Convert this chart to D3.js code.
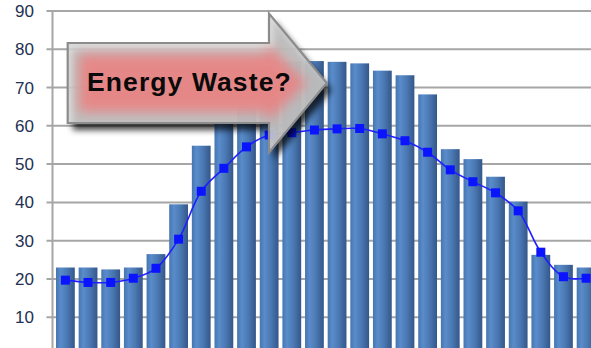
<!DOCTYPE html>
<html>
<head>
<meta charset="utf-8">
<script src="https://cdn.jsdelivr.net/npm/d3@7/dist/d3.min.js"></script>
<style>
  html, body { margin: 0; padding: 0; background: #ffffff; }
  svg { display: block; }
</style>
</head>
<body>
<script>
// Hourly load profile: demand bars with the occupancy curve on top
const hours = ["1","2","3","4","5","6","7","8","9","10","11","12","13","14","15","16","17","18","19","20","21","22","23","24"];
const demand = [23, 23, 22.5, 23, 26.5, 39.5, 54.8, 60.5, 65, 67.5, 76.8, 76.9, 76.7, 76.3, 74.4, 73.2, 68.2, 53.9, 51.3, 46.7, 40.2, 26.3, 23.7, 23];
const occupancy = [19.7, 19.1, 19.1, 20.2, 22.8, 30.4, 42.9, 48.9, 54.5, 57.6, 58.2, 58.9, 59.2, 59.3, 57.9, 56.1, 53.1, 48.5, 45.4, 42.5, 37.8, 27, 20.6, 20.2];
const yTicks = [10, 20, 30, 40, 50, 60, 70, 80, 90];
const calloutText = "Energy Waste?";

const W = 591, H = 348;
const axisX = 52.5;

const svg = d3.select("body").append("svg")
  .attr("width", W).attr("height", H)
  .style("font-family", "'Liberation Sans', Arial, sans-serif");

const defs = svg.append("defs");

// Cylinder-like shading across each bar
const barGrad = defs.append("linearGradient").attr("id", "barGrad")
  .attr("x1", "0%").attr("x2", "100%").attr("y1", "0%").attr("y2", "0%");
barGrad.append("stop").attr("offset", "0%").attr("stop-color", "#4676b0");
barGrad.append("stop").attr("offset", "25%").attr("stop-color", "#5a8ccb");
barGrad.append("stop").attr("offset", "60%").attr("stop-color", "#4a78b2");
barGrad.append("stop").attr("offset", "100%").attr("stop-color", "#34578a");

const y = d3.scaleLinear().domain([0, 90]).range([355.6, 10.9]);
const x = d3.scaleBand().domain(hours)
  .range([axisX, axisX + 546.5])
  .paddingInner(0.17).paddingOuter(0.155);

// Gridlines (extend left past the axis as tick marks)
const grid = svg.append("g");
grid.selectAll("line").data(yTicks).join("line")
  .attr("x1", 46.5).attr("x2", W)
  .attr("y1", d => y(d)).attr("y2", d => y(d))
  .attr("stroke", "#a6a6a6").attr("stroke-width", 2);

// Vertical value axis
svg.append("line")
  .attr("x1", axisX).attr("x2", axisX)
  .attr("y1", y(90) - 1).attr("y2", H)
  .attr("stroke", "#a6a6a6").attr("stroke-width", 2);

// Axis labels
svg.append("g").selectAll("text").data(yTicks).join("text")
  .attr("x", 34).attr("y", d => y(d) + 6)
  .attr("text-anchor", "end")
  .attr("font-size", 17)
  .attr("fill", "#233052")
  .text(d => d);

// Demand bars
svg.append("g").selectAll("rect").data(demand).join("rect")
  .attr("x", (d, i) => x(hours[i]))
  .attr("width", x.bandwidth())
  .attr("y", d => y(d))
  .attr("height", d => y(0) - y(d))
  .attr("fill", "url(#barGrad)");

// Occupancy curve with square markers
const line = d3.line()
  .x((d, i) => x(hours[i]) + x.bandwidth() / 2)
  .y(d => y(d))
  .curve(d3.curveCatmullRom.alpha(0.5));

svg.append("path").datum(occupancy)
  .attr("d", line)
  .attr("fill", "none")
  .attr("stroke", "#1f1fff")
  .attr("stroke-width", 1.6);

const m = 9;
svg.append("g").selectAll("rect").data(occupancy).join("rect")
  .attr("x", (d, i) => x(hours[i]) + x.bandwidth() / 2 - m / 2)
  .attr("y", d => y(d) - m / 2)
  .attr("width", m).attr("height", m)
  .attr("fill", "#0a14ff");

// Callout arrow
const shadow = defs.append("filter").attr("id", "shadow")
  .attr("x", "-20%").attr("y", "-20%").attr("width", "140%").attr("height", "150%");
shadow.append("feGaussianBlur").attr("in", "SourceAlpha").attr("stdDeviation", 3);

const glow = defs.append("filter").attr("id", "glow")
  .attr("x", "-20%").attr("y", "-30%").attr("width", "140%").attr("height", "160%");
glow.append("feGaussianBlur").attr("stdDeviation", 6);

const bodyTop = 43, bodyBot = 123, left = 67.7, neck = 269, headTop = 13.5, headBot = 152.5, tipX = 326.7, midY = 83;
const arrowPts = [[left, bodyTop], [neck, bodyTop], [neck, headTop], [tipX, midY], [neck, headBot], [neck, bodyBot], [left, bodyBot]];
const arrowPath = d3.line()(arrowPts) + "Z";

defs.append("clipPath").attr("id", "arrowClip")
  .append("path").attr("d", arrowPath);

const callout = svg.append("g");
callout.append("path").attr("d", arrowPath)
  .attr("transform", "translate(5,7)")
  .attr("fill", "#3a3a3a").attr("opacity", 0.75)
  .attr("filter", "url(#shadow)");

callout.append("path").attr("d", arrowPath)
  .attr("fill", "#d4d4d4").attr("fill-opacity", 0.86);

const inner = [[left + 11, bodyTop + 11], [neck - 2, bodyTop + 11], [neck - 2, headTop + 30], [tipX - 20, midY], [neck - 2, headBot - 30], [neck - 2, bodyBot - 11], [left + 11, bodyBot - 11]];
callout.append("g").attr("clip-path", "url(#arrowClip)")
  .append("path").attr("d", d3.line()(inner) + "Z")
  .attr("fill", "#f07a7a").attr("opacity", 0.8)
  .attr("filter", "url(#glow)");

callout.append("path").attr("d", arrowPath)
  .attr("fill", "none")
  .attr("stroke", "#8c8c8c").attr("stroke-width", 2.2)
  .attr("stroke-linejoin", "miter");

callout.append("text")
  .attr("x", 87).attr("y", 91)
  .attr("font-size", 26.5).attr("font-weight", "bold")
  .attr("letter-spacing", 1.1)
  .attr("fill", "#0a0a0a")
  .text(calloutText);
</script>
</body>
</html>
